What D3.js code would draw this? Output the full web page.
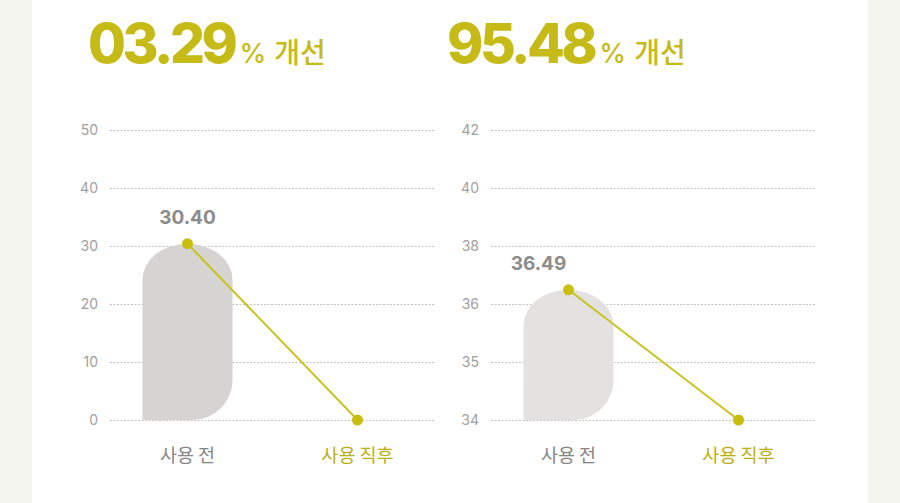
<!DOCTYPE html>
<html>
<head>
<meta charset="utf-8">
<script src="https://cdn.jsdelivr.net/npm/d3@7"></script>
<style>
  body { margin: 0; background: #f5f5f0; }
  #card { position: absolute; left: 32px; top: 0; width: 836px; height: 503px; background: #fff; }
  svg { position: absolute; left: 0; top: 0; }
</style>
</head>
<body>
<div id="card"></div>
<script>
// Data
const categories = ["사용 전", "사용 직후"];
const improvement = ["03.29", "95.48"];
const valuesA = [30.40, 0];
const valuesB = [36.49, 34];
const ticksA = [0, 10, 20, 30, 40, 50];
const ticksB = [34, 35, 36, 38, 40, 42];

const w = 900;
const h = 503;
const olive = "#c6bb16";
const fontNum = "Inter, 'Noto Sans', sans-serif";
const fontKr = "'Noto Sans CJK KR', 'Noto Sans', sans-serif";

const svg = d3.select("body").append("svg").attr("width", w).attr("height", h);

const panels = [
	{ values: valuesA, ticks: ticksA, title: improvement[0], gx: 0, titleX: 88, barFill: "#d6d4d0", labelDx: 0 },
	{ values: valuesB, ticks: ticksB, title: improvement[1], gx: 381, titleX: 447, barFill: "#e3e2e0", labelDx: -30 },
];

panels.forEach((p) => {
	// Title
	const t = svg
		.append("text")
		.attr("x", p.titleX)
		.attr("y", 63)
		.attr("fill", olive);
	t.append("tspan")
		.attr("font-family", fontNum)
		.attr("font-weight", 800)
		.attr("font-size", 55)
		.attr("letter-spacing", -3.5)
		.text(p.title);
	t.append("tspan")
		.attr("dx", 5)
		.attr("font-family", fontNum)
		.attr("font-weight", 500)
		.attr("font-size", 27)
		.text("%");
	t.append("tspan")
		.attr("dx", 8)
		.attr("font-family", fontKr)
		.attr("font-weight", 500)
		.attr("font-size", 28)
		.text("개선");

	const g = svg.append("g").attr("transform", `translate(${p.gx},0)`);

	// Scales: ticks are evenly spaced, so the y scale is piecewise linear
	const yScale = d3
		.scaleLinear()
		.domain(p.ticks)
		.range(p.ticks.map((d, i) => 420 - i * 58));

	const xScale = d3.scalePoint().domain(categories).range([110, 435]).padding(0.456);

	// Grid + y axis
	const yAxis = d3.axisLeft(yScale).tickValues(p.ticks).tickSize(-325).tickPadding(12);
	const ax = g.append("g").attr("transform", "translate(110,0)").call(yAxis);
	ax.select(".domain").remove();
	ax.selectAll(".tick line").attr("stroke", "#c4c4c4").attr("stroke-dasharray", "2,1.5");
	ax.selectAll(".tick text")
		.attr("fill", "#a0a0a0")
		.style("font-family", fontNum)
		.style("font-size", "14px");

	// Rounded bar (first category only)
	const bx = xScale(categories[0]);
	const x0 = bx - 45;
	const x1 = bx + 45;
	const yt = yScale(p.values[0]);
	const yb = yScale(p.ticks[0]);
	const ry = 36;
	const r = 40;
	g.append("path")
		.attr(
			"d",
			`M${x0},${yb} L${x0},${yt + ry} A45,${ry} 0 0 1 ${x1},${yt + ry} L${x1},${yb - r} A${r},${r} 0 0 1 ${x1 - r},${yb} Z`,
		)
		.attr("fill", p.barFill);

	// Line + dots
	const line = d3
		.line()
		.x((d, i) => xScale(categories[i]))
		.y((d) => yScale(d));
	g.append("path")
		.datum(p.values)
		.attr("d", line)
		.attr("fill", "none")
		.attr("stroke", "#c9c21f")
		.attr("stroke-width", 2);

	g.selectAll(".dot")
		.data(p.values)
		.enter()
		.append("circle")
		.attr("cx", (d, i) => xScale(categories[i]))
		.attr("cy", (d) => yScale(d))
		.attr("r", 5.5)
		.attr("fill", "#c9bd0e");

	// Value label
	g.append("text")
		.attr("x", bx + p.labelDx)
		.attr("y", yt - 20)
		.attr("text-anchor", "middle")
		.attr("fill", "#8c8c8c")
		.attr("font-family", fontNum)
		.attr("font-weight", 700)
		.attr("font-size", 19)
		.text(p.values[0].toFixed(2));

	// Category labels
	g.selectAll(".cat")
		.data(categories)
		.enter()
		.append("text")
		.attr("x", (d) => xScale(d))
		.attr("y", 462)
		.attr("text-anchor", "middle")
		.attr("fill", (d, i) => (i === 0 ? "#858585" : "#b9ae12"))
		.attr("font-family", fontKr)
		.attr("font-weight", 400)
		.attr("font-size", 18.5)
		.text((d) => d);
});
</script>
</body>
</html>
